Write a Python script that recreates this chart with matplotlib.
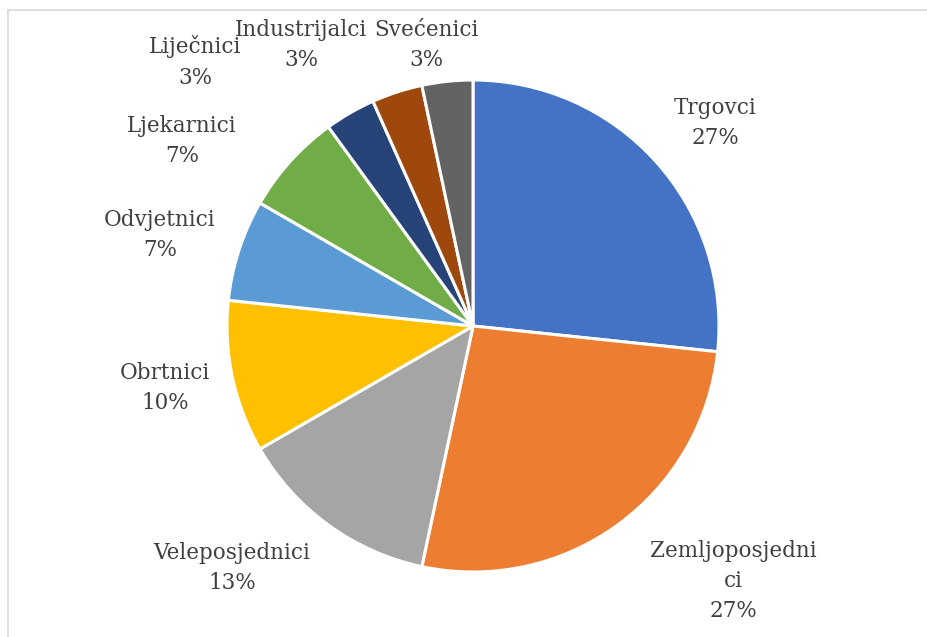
import matplotlib.pyplot as plt
from matplotlib.patches import Rectangle

labels = ['Trgovci', 'Zemljoposjedni\nci', 'Veleposjednici', 'Obrtnici', 'Odvjetnici',
          'Ljekarnici', 'Liječnici', 'Industrijalci', 'Svećenici']
counts = [8, 8, 4, 3, 2, 2, 1, 1, 1]
colors = ['#4472C4', '#ED7D31', '#A5A5A5', '#FFC000', '#5B9BD5',
          '#70AD47', '#264478', '#9E480E', '#636363']

# label centres in pixels (x, y from top), as placed in the reference
label_pos = [(715, 123), (733, 581), (232, 568), (165, 388), (160, 235),
             (182, 141), (195, 62), (301, 45), (426, 45)]

W, H = 927, 637
fig = plt.figure(figsize=(W / 100, H / 100), dpi=100)
ax = fig.add_axes([0, 0, 1, 1])
ax.set_xlim(0, W)
ax.set_ylim(0, H)
ax.set_aspect('equal')
ax.axis('off')

ax.pie(counts, colors=colors, startangle=90, counterclock=False,
       center=(473, H - 326), radius=246,
       wedgeprops=dict(edgecolor='white', linewidth=2.2))
ax.set_xlim(0, W)
ax.set_ylim(0, H)

total = sum(counts)
for lab, c, (x, y) in zip(labels, counts, label_pos):
    ax.text(x, H - y, f'{lab}\n{round(100 * c / total)}%', ha='center', va='center',
            fontsize=15.5, color='#404040', family='DejaVu Serif', linespacing=1.48)

fig.patches.append(Rectangle((8 / W, -0.1), 1.1, 1 - 10 / H + 0.1, transform=fig.transFigure,
                             fill=False, edgecolor='#d9d9d9', linewidth=1.2))

fig.savefig('out.png', dpi=100)
